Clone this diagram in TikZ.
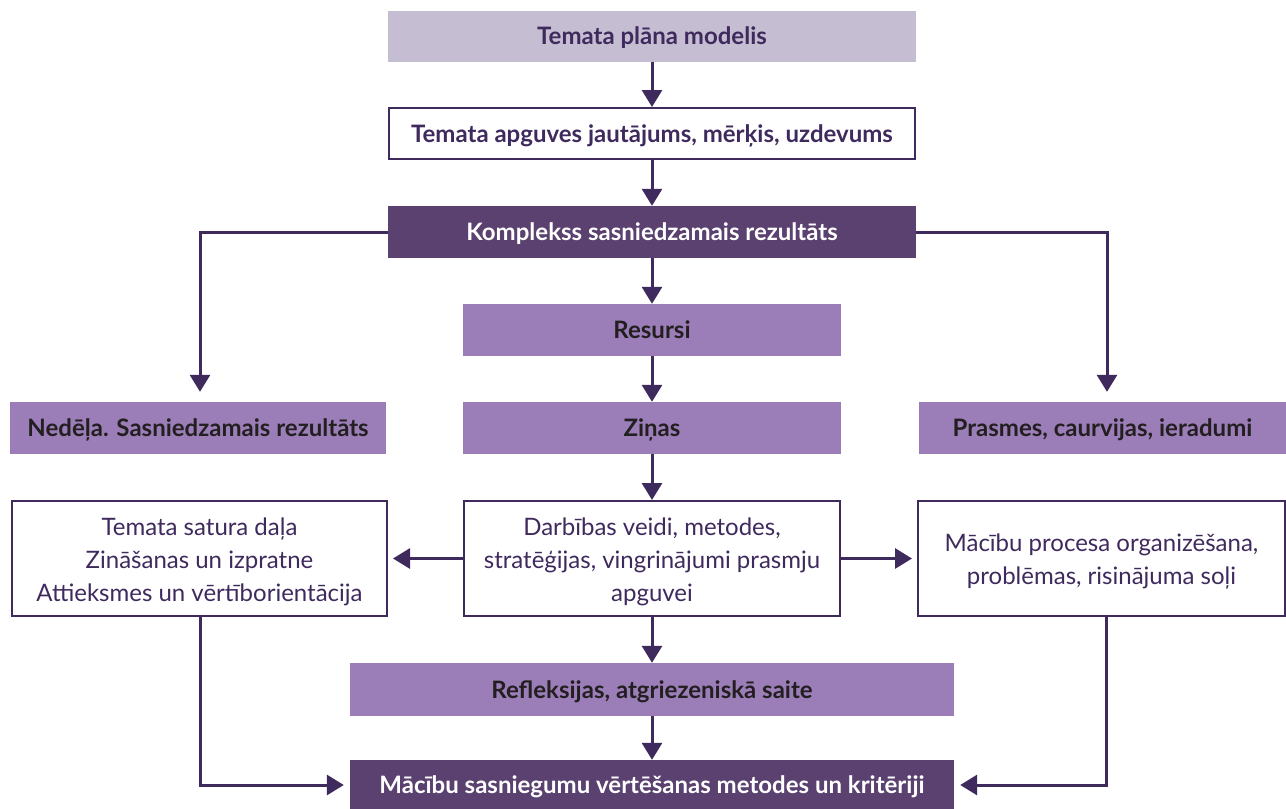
\documentclass[tikz,border=0pt]{standalone}
\usepackage{fontspec}
\setmainfont{Lato}
\usetikzlibrary{arrows.meta}
\definecolor{lineP}{HTML}{3F2A5E}
\definecolor{titleF}{HTML}{C5BDD1}
\definecolor{darkF}{HTML}{5A4170}
\definecolor{midF}{HTML}{9B7DB8}
\definecolor{txtD}{HTML}{231F20}
\tikzset{
  base/.style={inner sep=0pt, align=center, text depth=0pt, font=\fontsize{24}{33}\selectfont},
  titlebox/.style={base, fill=titleF, text=lineP, font=\fontsize{24}{33}\selectfont\bfseries},
  whitebold/.style={base, fill=white, draw=lineP, line width=2pt, text=lineP, font=\fontsize{24}{33}\selectfont\bfseries},
  darkbox/.style={base, fill=darkF, text=white, font=\fontsize{24}{33}\selectfont\bfseries},
  midbox/.style={base, fill=midF, text=txtD, font=\fontsize{24}{33}\selectfont\bfseries},
  whitebox/.style={base, fill=white, draw=lineP, line width=2pt},
  boxtext/.style={inner sep=0pt, align=center, text=lineP, font=\fontsize{24}{33}\selectfont},
  conn/.style={draw=lineP, line width=3pt, -{Triangle[width=20pt,length=17pt]}},
}
\begin{document}
\begin{tikzpicture}[x=1pt,y=-1pt]
\useasboundingbox (0,0) rectangle (1286,809);
% top column
\node[titlebox, minimum width=528pt, minimum height=51pt] (t1) at (652,36) {Temata plāna modelis};
\node[whitebold, minimum width=526pt, minimum height=51pt] (t2) at (652,133.5) {Temata apguves jautājums, mērķis, uzdevums};
\node[darkbox, minimum width=528pt, minimum height=52pt] (t3) at (652,232) {Komplekss sasniedzamais rezultāts};
\node[midbox, minimum width=378pt, minimum height=52pt] (res) at (652,330) {Resursi};
\node[midbox, minimum width=378pt, minimum height=52pt] (zin) at (652,428) {Ziņas};
\node[midbox, minimum width=376pt, minimum height=52pt] (ned) at (198,428) {Nedēļa. Sasniedzamais rezultāts};
\node[midbox, minimum width=367pt, minimum height=52pt] (pra) at (1102.5,428) {Prasmes, caurvijas, ieradumi};
% white boxes
\node[whitebox, minimum width=375pt, minimum height=115pt] (lb) at (199.5,558.5) {};
\node[boxtext] (lbt) at ([yshift=-3pt]lb.center) {Temata satura daļa\\Zināšanas un izpratne\\Attieksmes un vērtīborientācija};
\node[whitebox, minimum width=376pt, minimum height=115pt] (cb) at (652,558.5) {};
\node[boxtext] (cbt) at ([yshift=-3pt]cb.center) {Darbības veidi, metodes,\\stratēģijas, vingrinājumi prasmju\\apguvei};
\node[whitebox, minimum width=367pt, minimum height=115pt] (rb) at (1101.5,558.5) {};
\node[boxtext] (rbt) at ([yshift=-3pt]rb.center) {Mācību procesa organizēšana,\\problēmas, risinājuma soļi};
\node[midbox, minimum width=604pt, minimum height=53pt] (ref) at (652,689.5) {Refleksijas, atgriezeniskā saite};
\node[darkbox, minimum width=604pt, minimum height=50pt] (bot) at (652,785) {Mācību sasniegumu vērtēšanas metodes un kritēriji};
% connectors
\draw[conn] (t1) -- (t2);
\draw[conn] (t2) -- (t3);
\draw[conn] (t3) -- (res);
\draw[conn] (res) -- (zin);
\draw[conn] (zin) -- (cb);
\draw[conn] (cb) -- (ref);
\draw[conn] (ref) -- (bot);
\draw[conn, shorten >=10pt] (t3.west) -| ([xshift=2pt]ned.north);
\draw[conn, shorten >=10pt] (t3.east) -| ([xshift=4.5pt]pra.north);
\draw[conn, shorten >=5pt] (cb.west) -- (lb.east);
\draw[conn, shorten >=5pt] (cb.east) -- (rb.west);
\draw[conn, shorten >=6pt] ([xshift=0.5pt]lb.south) |- (bot.west);
\draw[conn, shorten >=6pt] ([xshift=4.5pt]rb.south) |- (bot.east);
\end{tikzpicture}
\end{document}
